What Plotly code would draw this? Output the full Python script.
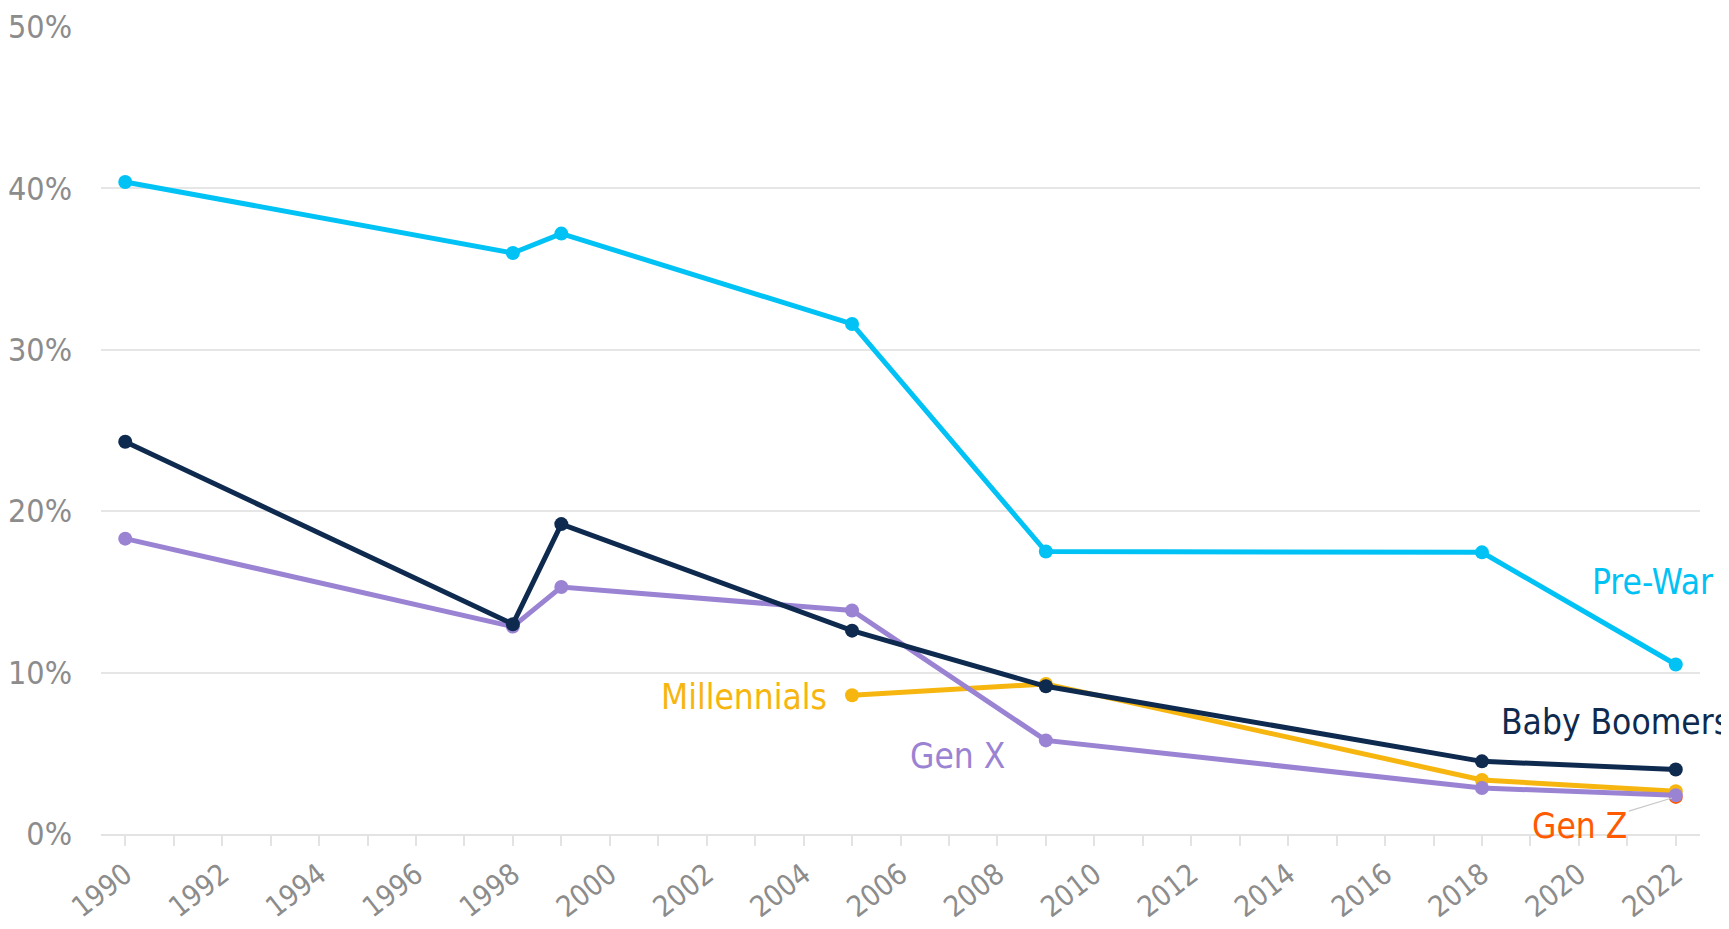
import plotly.graph_objects as go

years_main = [1990, 1998, 1999, 2005, 2009, 2018, 2022]
pre_war = [40.4, 36.0, 37.2, 31.6, 17.5, 17.45, 10.5]
baby_boomers = [24.3, 13.0, 19.2, 12.6, 9.15, 4.5, 4.0]
gen_x = [18.3, 12.85, 15.3, 13.85, 5.8, 2.85, 2.4]
years_mill = [2005, 2009, 2018, 2022]
millennials = [8.6, 9.3, 3.35, 2.65]
years_genz = [2022]
gen_z = [2.3]

tick_years = list(range(1990, 2023))
tick_text = [str(y) if y % 2 == 0 else "" for y in tick_years]
y_ticks = [0, 10, 20, 30, 40, 50]
y_text = [f"{v}%" for v in y_ticks]

C_PRE = "#00C2F5"
C_BB = "#0E2A4E"
C_GX = "#9B83D3"
C_MIL = "#F6B60F"
C_GZ = "#FF5A00"
FONT = "DejaVu Sans Condensed"

fig = go.Figure()

def add(x, y, color, name):
    fig.add_trace(go.Scatter(
        x=x, y=y, mode="lines+markers", name=name,
        line=dict(color=color, width=5),
        marker=dict(color=color, size=14),
        showlegend=False, cliponaxis=False,
    ))

add(years_genz, gen_z, C_GZ, "Gen Z")
add(years_mill, millennials, C_MIL, "Millennials")
add(years_main, gen_x, C_GX, "Gen X")
add(years_main, baby_boomers, C_BB, "Baby Boomers")
add(years_main, pre_war, C_PRE, "Pre-War")

ann_font = lambda c: dict(family=FONT, size=35, color=c)
fig.add_annotation(x=2021.52, y=15.6, text="Pre-War", showarrow=False, font=ann_font(C_PRE))
fig.add_annotation(x=2020.76, y=6.92, text="Baby Boomers", showarrow=False, font=ann_font(C_BB))
fig.add_annotation(x=2002.78, y=8.47, text="Millennials", showarrow=False, font=ann_font(C_MIL))
fig.add_annotation(x=2007.18, y=4.81, text="Gen X", showarrow=False, font=ann_font(C_GX))
fig.add_annotation(x=years_genz[0], y=gen_z[0], text="Gen Z", showarrow=True,
                   arrowhead=0, arrowwidth=1.2, arrowcolor="#c8c8c8",
                   ax=-96, ay=29, standoff=4, font=ann_font(C_GZ))

fig.update_layout(
    width=1729, height=929,
    margin=dict(l=93, r=37, t=19, b=103),
    plot_bgcolor="white", paper_bgcolor="white",
    font=dict(family=FONT, color="#8c8c8c"),
)
fig.update_xaxes(
    range=[1989.5, 2022.5], tickvals=tick_years, ticktext=tick_text,
    tickangle=-38, tickfont=dict(family=FONT, size=29, color="#8c8c8c"),
    showgrid=False, zeroline=False, showline=True, linecolor="#e3e3e3", linewidth=2,
    ticks="outside", ticklen=10, tickwidth=2, tickcolor="#e3e3e3", automargin=False,
    ticklabeloverflow="allow",
)
fig.update_yaxes(
    range=[0, 50], tickvals=y_ticks, ticktext=y_text,
    tickfont=dict(family=FONT, size=32, color="#8c8c8c"),
    showgrid=True, gridcolor="#e6e6e6", gridwidth=2, zeroline=False,
    showline=False, ticklabelstandoff=28, automargin=False,
    ticklabeloverflow="allow",
)

fig.write_html("out.html")
